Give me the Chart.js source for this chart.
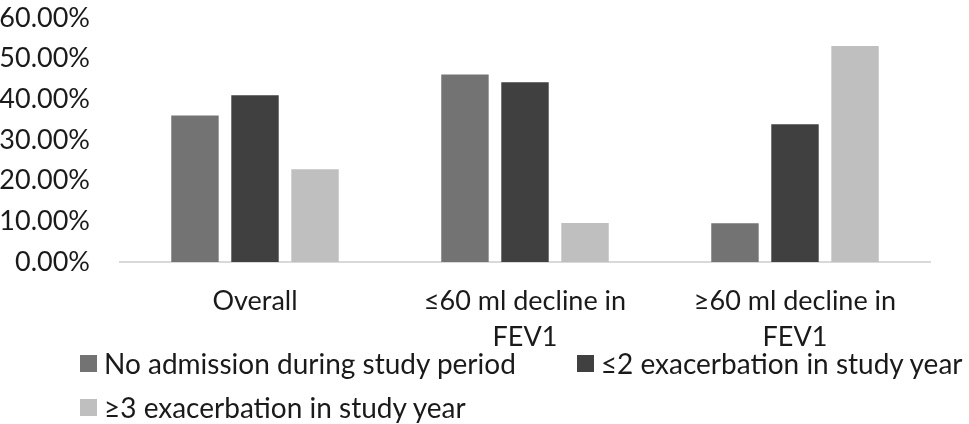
<!DOCTYPE html>
<html><head><meta charset="utf-8">
<script src="https://cdn.jsdelivr.net/npm/chart.js@4/dist/chart.umd.min.js"></script>
<style>
html,body{margin:0;padding:0;background:#fff;overflow:hidden}
#wrap{position:relative;width:969px;height:424px}
#legend{position:absolute;left:80px;top:345px;width:889px;display:flex;flex-wrap:wrap;column-gap:61px;row-gap:8px;font-family:Lato;font-size:28px;color:#1a1a1a}
.item{display:flex;align-items:center;white-space:nowrap;height:36px}
.box{width:17px;height:17px;margin-right:7px;flex:none}
</style></head>
<body><div id="wrap"><canvas id="c" width="969" height="424"></canvas><div id="legend"></div></div>
<script>
const categories = ['Overall', ['≤60 ml decline in', 'FEV1'], ['≥60 ml decline in', 'FEV1']];
const seriesNames = ['No admission during study period', '≤2 exacerbation in study year', '≥3 exacerbation in study year'];
const noAdmission = [36.0, 46.1, 9.5];
const exacerbation2 = [41.0, 44.2, 33.9];
const exacerbation3 = [22.8, 9.6, 53.1];
const yTickValues = [0, 10, 20, 30, 40, 50, 60];
const seriesColors = ['#737373', '#404040', '#bfbfbf'];

const seriesValues = [noAdmission, exacerbation2, exacerbation3];
const datasets = seriesValues.map((vals, i) => ({
  label: seriesNames[i],
  data: vals,
  backgroundColor: seriesColors[i],
  borderWidth: 0,
  categoryPercentage: 0.667,
  barPercentage: 0.79
}));

const chart = new Chart(document.getElementById('c'), {
  type: 'bar',
  data: { labels: categories, datasets },
  options: {
    responsive: false,
    animation: false,
    layout: { padding: { top: 18, right: 39, left: 0, bottom: 0 } },
    plugins: { legend: { display: false }, tooltip: { enabled: false } },
    scales: {
      x: {
        grid: { display: false, drawTicks: false },
        border: { display: true, color: '#d9d9d9', width: 2 },
        ticks: {
          color: '#1a1a1a', font: { family: 'Lato', size: 27, lineHeight: 1.33 },
          padding: 21, maxRotation: 0, autoSkip: false
        },
        afterFit: s => { s.height = 162; }
      },
      y: {
        min: 0, max: 60,
        grid: { display: false, drawTicks: false },
        border: { display: false },
        afterBuildTicks: s => { s.ticks = yTickValues.map(v => ({ value: v })); },
        ticks: {
          color: '#1a1a1a', font: { family: 'Lato', size: 27 },
          padding: 30,
          callback: v => v.toFixed(2) + '%'
        },
        afterFit: s => { s.width = 120; s.paddingTop = 0; s.paddingBottom = 0; }
      }
    }
  }
});

const legend = document.getElementById('legend');
chart.data.datasets.forEach(ds => {
  const item = document.createElement('div');
  item.className = 'item';
  const box = document.createElement('span');
  box.className = 'box';
  box.style.background = ds.backgroundColor;
  const txt = document.createElement('span');
  txt.textContent = ds.label;
  item.appendChild(box); item.appendChild(txt);
  legend.appendChild(item);
});
</script>
</body></html>
